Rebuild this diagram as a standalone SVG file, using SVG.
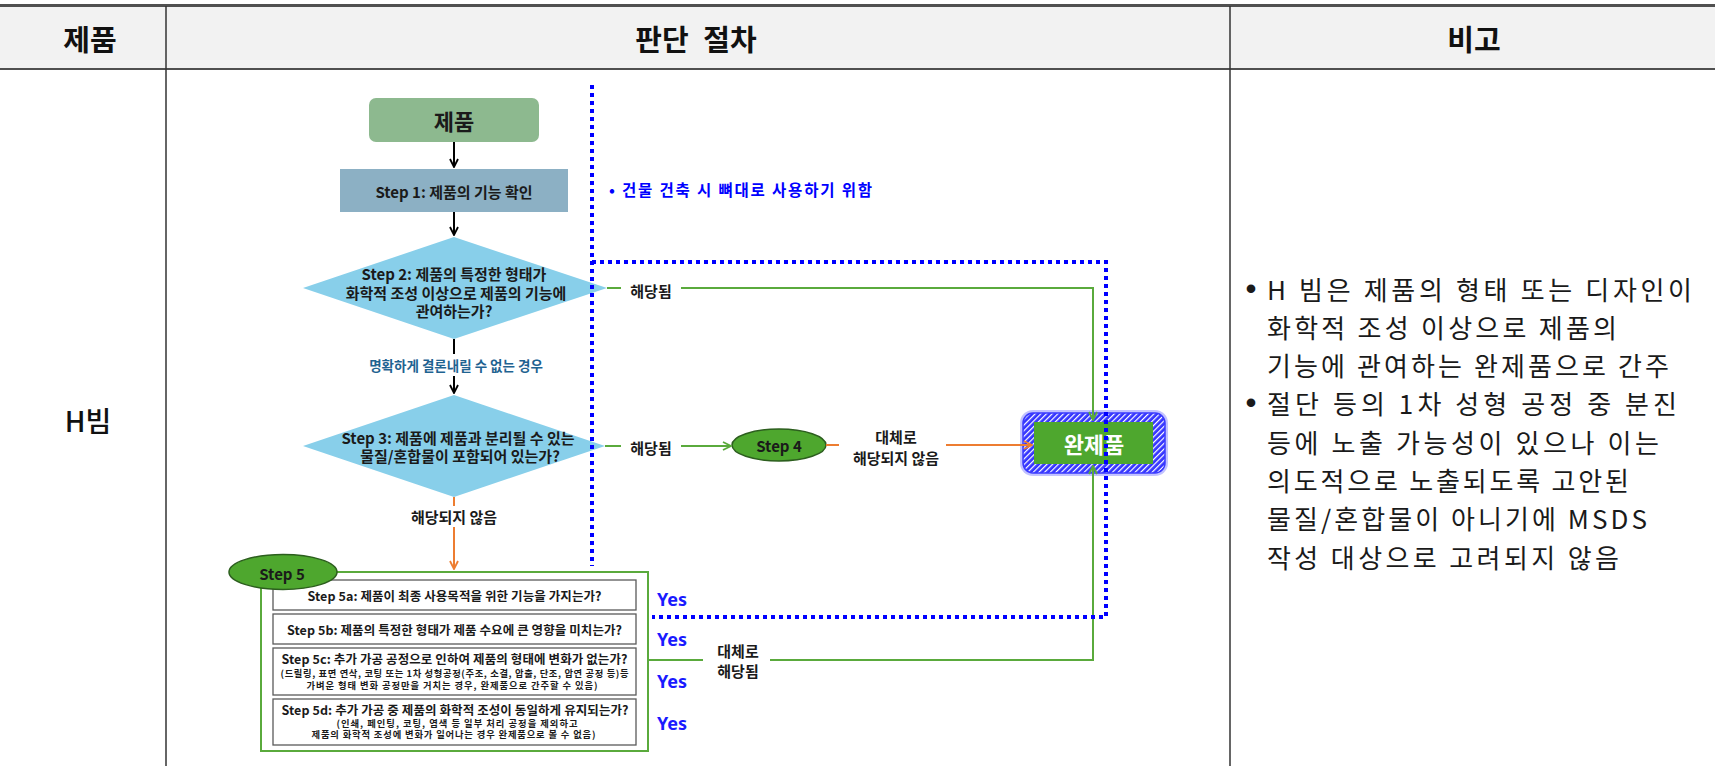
<svg xmlns="http://www.w3.org/2000/svg" width="1715" height="766" viewBox="0 0 1715 766">
<defs>
<style>
text{font-family:"Noto Sans CJK KR","Noto Sans",sans-serif;dominant-baseline:central}
.hdr{font-size:29px;font-weight:700;fill:#111;text-anchor:middle}
.lbl{font-size:15px;font-weight:700;fill:#1a1a1a;text-anchor:middle}
.sub{font-weight:700;fill:#1a1a1a;text-anchor:middle}
.yes{font-family:"Noto Sans",sans-serif;font-size:18px;font-weight:700;fill:#1a1aff}
.note{font-size:26px;fill:#1a1a1a}
.bul{font-family:"Liberation Sans",sans-serif;font-size:30px;font-weight:700;fill:#1a1a1a;text-anchor:middle}
.gl{stroke:#5aaa3c;stroke-width:2;fill:none}
.ol{stroke:#ed7d31;stroke-width:2;fill:none}
.kl{stroke:#000;stroke-width:2;fill:none}
.dot{stroke:#0000ff;stroke-width:4;stroke-dasharray:4 4;fill:none}
.box{fill:#fff;stroke:#5a5a5a;stroke-width:1.3}
.bg{fill:#fff}
.dia{fill:#88cfea}
.ell{fill:#4ea72e;stroke:#2c5e1e;stroke-width:1.5}
</style>
<marker id="ah-k" viewBox="0 0 10 10" refX="9" refY="5" markerWidth="10" markerHeight="10" markerUnits="userSpaceOnUse" orient="auto"><path d="M1,1 L9,5 L1,9" fill="none" stroke="#000" stroke-width="1.8"/></marker>
<marker id="ah-g" viewBox="0 0 10 10" refX="9" refY="5" markerWidth="10" markerHeight="10" markerUnits="userSpaceOnUse" orient="auto"><path d="M1,1 L9,5 L1,9" fill="none" stroke="#5aaa3c" stroke-width="1.8"/></marker>
<marker id="ah-o" viewBox="0 0 10 10" refX="9" refY="5" markerWidth="10" markerHeight="10" markerUnits="userSpaceOnUse" orient="auto"><path d="M1,1 L9,5 L1,9" fill="none" stroke="#ed7d31" stroke-width="1.8"/></marker>
<pattern id="hatch" patternUnits="userSpaceOnUse" width="4" height="4" patternTransform="rotate(45)">
<rect width="4" height="4" fill="#3434ff"/>
<rect x="0" y="0" width="1.2" height="4" fill="#ffffff"/>
</pattern>
</defs>

<g id="table">
<rect x="0" y="6" width="1715" height="63" fill="#f2f2f2"/>
<line x1="0" y1="5.5" x2="1715" y2="5.5" stroke="#505050" stroke-width="3"/>
<line x1="0" y1="69" x2="1715" y2="69" stroke="#505050" stroke-width="2"/>
<line x1="166" y1="6" x2="166" y2="766" stroke="#333" stroke-width="1.5"/>
<line x1="1230" y1="6" x2="1230" y2="766" stroke="#333" stroke-width="1.5"/>
<text class="hdr" x="90" y="38">제품</text>
<text class="hdr" x="696" y="38" word-spacing="8">판단 절차</text>
<text class="hdr" x="1474" y="38">비고</text>
<text x="88" y="420" font-size="28" font-weight="500" fill="#111" text-anchor="middle">H빔</text>
</g>

<g id="notes">
<text class="bul" x="1251" y="288">•</text>
<text class="note" x="1267" y="288" textLength="425" lengthAdjust="spacing">H 빔은 제품의 형태 또는 디자인이</text>
<text class="note" x="1267" y="326.3" textLength="350" lengthAdjust="spacing">화학적 조성 이상으로 제품의</text>
<text class="note" x="1267" y="364.6" textLength="402" lengthAdjust="spacing">기능에 관여하는 완제품으로 간주</text>
<text class="bul" x="1251" y="402.9">•</text>
<text class="note" x="1267" y="402.9" textLength="410" lengthAdjust="spacing">절단 등의 1차 성형 공정 중 분진</text>
<text class="note" x="1267" y="441.2" textLength="392" lengthAdjust="spacing">등에 노출 가능성이 있으나 이는</text>
<text class="note" x="1267" y="479.5" textLength="362" lengthAdjust="spacing">의도적으로 노출되도록 고안된</text>
<text class="note" x="1267" y="517.8" textLength="380" lengthAdjust="spacing">물질/혼합물이 아니기에 MSDS</text>
<text class="note" x="1267" y="556.1" textLength="352" lengthAdjust="spacing">작성 대상으로 고려되지 않음</text>
</g>

<g id="n-product">
<rect x="369" y="98" width="170" height="44" rx="7" fill="#8db98f"/>
<text x="454" y="120" font-size="22" font-weight="700" fill="#1a1a1a" text-anchor="middle">제품</text>
</g>

<g id="n-step1">
<rect x="340" y="169" width="228" height="43" fill="#8cb0c4"/>
<text class="lbl" x="454" y="191">Step 1: 제품의 기능 확인</text>
</g>

<g id="n-step2">
<polygon class="dia" points="454,237 607,288 454,339 303,288"/>
<text class="lbl" x="454" y="273">Step 2: 제품의 특정한 형태가</text>
<text class="lbl" x="456" y="292">화학적 조성 이상으로 제품의 기능에</text>
<text class="lbl" x="454" y="310">관여하는가?</text>
</g>

<g id="n-step3">
<polygon class="dia" points="454,395 605,446 454,497 303,446"/>
<text class="lbl" x="458" y="437">Step 3: 제품에 제품과 분리될 수 있는</text>
<text class="lbl" x="460" y="455">물질/혼합물이 포함되어 있는가?</text>
</g>

<g id="n-step4">
<ellipse class="ell" cx="779" cy="445" rx="47" ry="16"/>
<text class="lbl" x="779" y="445" font-size="14">Step 4</text>
</g>

<g id="n-final">
<rect x="1020" y="410" width="148" height="66" rx="13" fill="#a8a8ff" opacity="0.7"/>
<rect x="1023" y="413" width="142" height="60" rx="10" fill="url(#hatch)" stroke="#3a3aff" stroke-width="1.5"/>
<rect x="1034" y="422" width="119" height="42" fill="#4ea72e"/>
<text x="1094" y="443" font-size="22" font-weight="700" fill="#fff" text-anchor="middle">완제품</text>
</g>

<g id="n-step5">
<rect x="261" y="572" width="387" height="179" fill="#fff" stroke="#5aaa3c" stroke-width="2"/>
<rect class="box" x="273" y="580" width="363" height="30"/>
<text class="sub" x="454.5" y="595" font-size="12.5" textLength="294" lengthAdjust="spacing">Step 5a: 제품이 최종 사용목적을 위한 기능을 가지는가?</text>
<rect class="box" x="273" y="614" width="363" height="30"/>
<text class="sub" x="454.5" y="629" font-size="12.5" textLength="335" lengthAdjust="spacing">Step 5b: 제품의 특정한 형태가 제품 수요에 큰 영향을 미치는가?</text>
<rect class="box" x="273" y="648" width="363" height="47"/>
<text class="sub" x="454.5" y="658.5" font-size="12.5" textLength="346" lengthAdjust="spacing">Step 5c: 추가 가공 공정으로 인하여 제품의 형태에 변화가 없는가?</text>
<text class="sub" x="454.5" y="673" font-size="9.3" textLength="348" lengthAdjust="spacing">(드릴링, 표면 연삭, 코팅 또는 1차 성형공정(주조, 소결, 압출, 단조, 압연 공정 등)등</text>
<text class="sub" x="452" y="685" font-size="9.3" textLength="291" lengthAdjust="spacing">가벼운 형태 변화 공정만을 거치는 경우, 완제품으로 간주할 수 있음)</text>
<rect class="box" x="273" y="699" width="363" height="46"/>
<text class="sub" x="455" y="709" font-size="12.5" textLength="347" lengthAdjust="spacing">Step 5d: 추가 가공 중 제품의 화학적 조성이 동일하게 유지되는가?</text>
<text class="sub" x="457" y="722.5" font-size="9.3" textLength="241" lengthAdjust="spacing">(인쇄, 페인팅, 코팅, 염색 등 일부 처리 공정을 제외하고</text>
<text class="sub" x="453.5" y="734" font-size="9.3" textLength="284" lengthAdjust="spacing">제품의 화학적 조성에 변화가 일어나는 경우 완제품으로 볼 수 없음)</text>
<ellipse class="ell" cx="283" cy="572" rx="54" ry="17.5"/>
<text class="lbl" x="282" y="573" font-size="14.5">Step 5</text>
</g>

<g id="connectors">
<path class="kl" d="M454,142 V167" marker-end="url(#ah-k)"/>
<path class="kl" d="M454,212 V235" marker-end="url(#ah-k)"/>
<path class="kl" d="M454,339 V354"/>
<path class="kl" d="M454,376 V393" marker-end="url(#ah-k)"/>
<path class="gl" d="M607,288 H1093 V420" marker-end="url(#ah-g)"/>
<path class="gl" d="M605,446 H731" marker-end="url(#ah-g)"/>
<path class="ol" d="M826,445 H1032" marker-end="url(#ah-o)"/>
<path class="ol" d="M454,497 V569" marker-end="url(#ah-o)"/>
<path class="gl" d="M648,660 H1093 V466" marker-end="url(#ah-g)"/>
</g>

<g id="boundary">
<path class="dot" d="M592,85 V566"/>
<path class="dot" d="M592,262 H1106 V617 H652"/>
</g>

<g id="labels">
<rect class="bg" x="340" y="356" width="230" height="19"/>
<text x="456" y="365" font-size="13.5" font-weight="700" fill="#1f6391" text-anchor="middle">명확하게 결론내릴 수 없는 경우</text>
<rect class="bg" x="621" y="278" width="60" height="22"/>
<text class="lbl" x="651" y="290">해당됨</text>
<rect class="bg" x="621" y="436" width="60" height="22"/>
<text class="lbl" x="651" y="447">해당됨</text>
<rect class="bg" x="839" y="426" width="107" height="42"/>
<text class="lbl" x="896" y="436.5">대체로</text>
<text class="lbl" x="896" y="457.5">해당되지 않음</text>
<rect class="bg" x="398" y="506" width="110" height="21"/>
<text class="lbl" x="454" y="516">해당되지 않음</text>
<rect class="bg" x="703" y="640" width="67" height="40"/>
<text class="lbl" x="738" y="650.5" font-size="14">대체로</text>
<text class="lbl" x="738" y="670.5" font-size="14">해당됨</text>
<text x="609" y="189" font-size="15.5" font-weight="700" fill="#0000ff" textLength="263" lengthAdjust="spacing">• 건물 건축 시 뼈대로 사용하기 위함</text>
<text class="yes" x="657" y="599">Yes</text>
<text class="yes" x="657" y="639">Yes</text>
<text class="yes" x="657" y="681">Yes</text>
<text class="yes" x="657" y="723">Yes</text>
</g>
</svg>
